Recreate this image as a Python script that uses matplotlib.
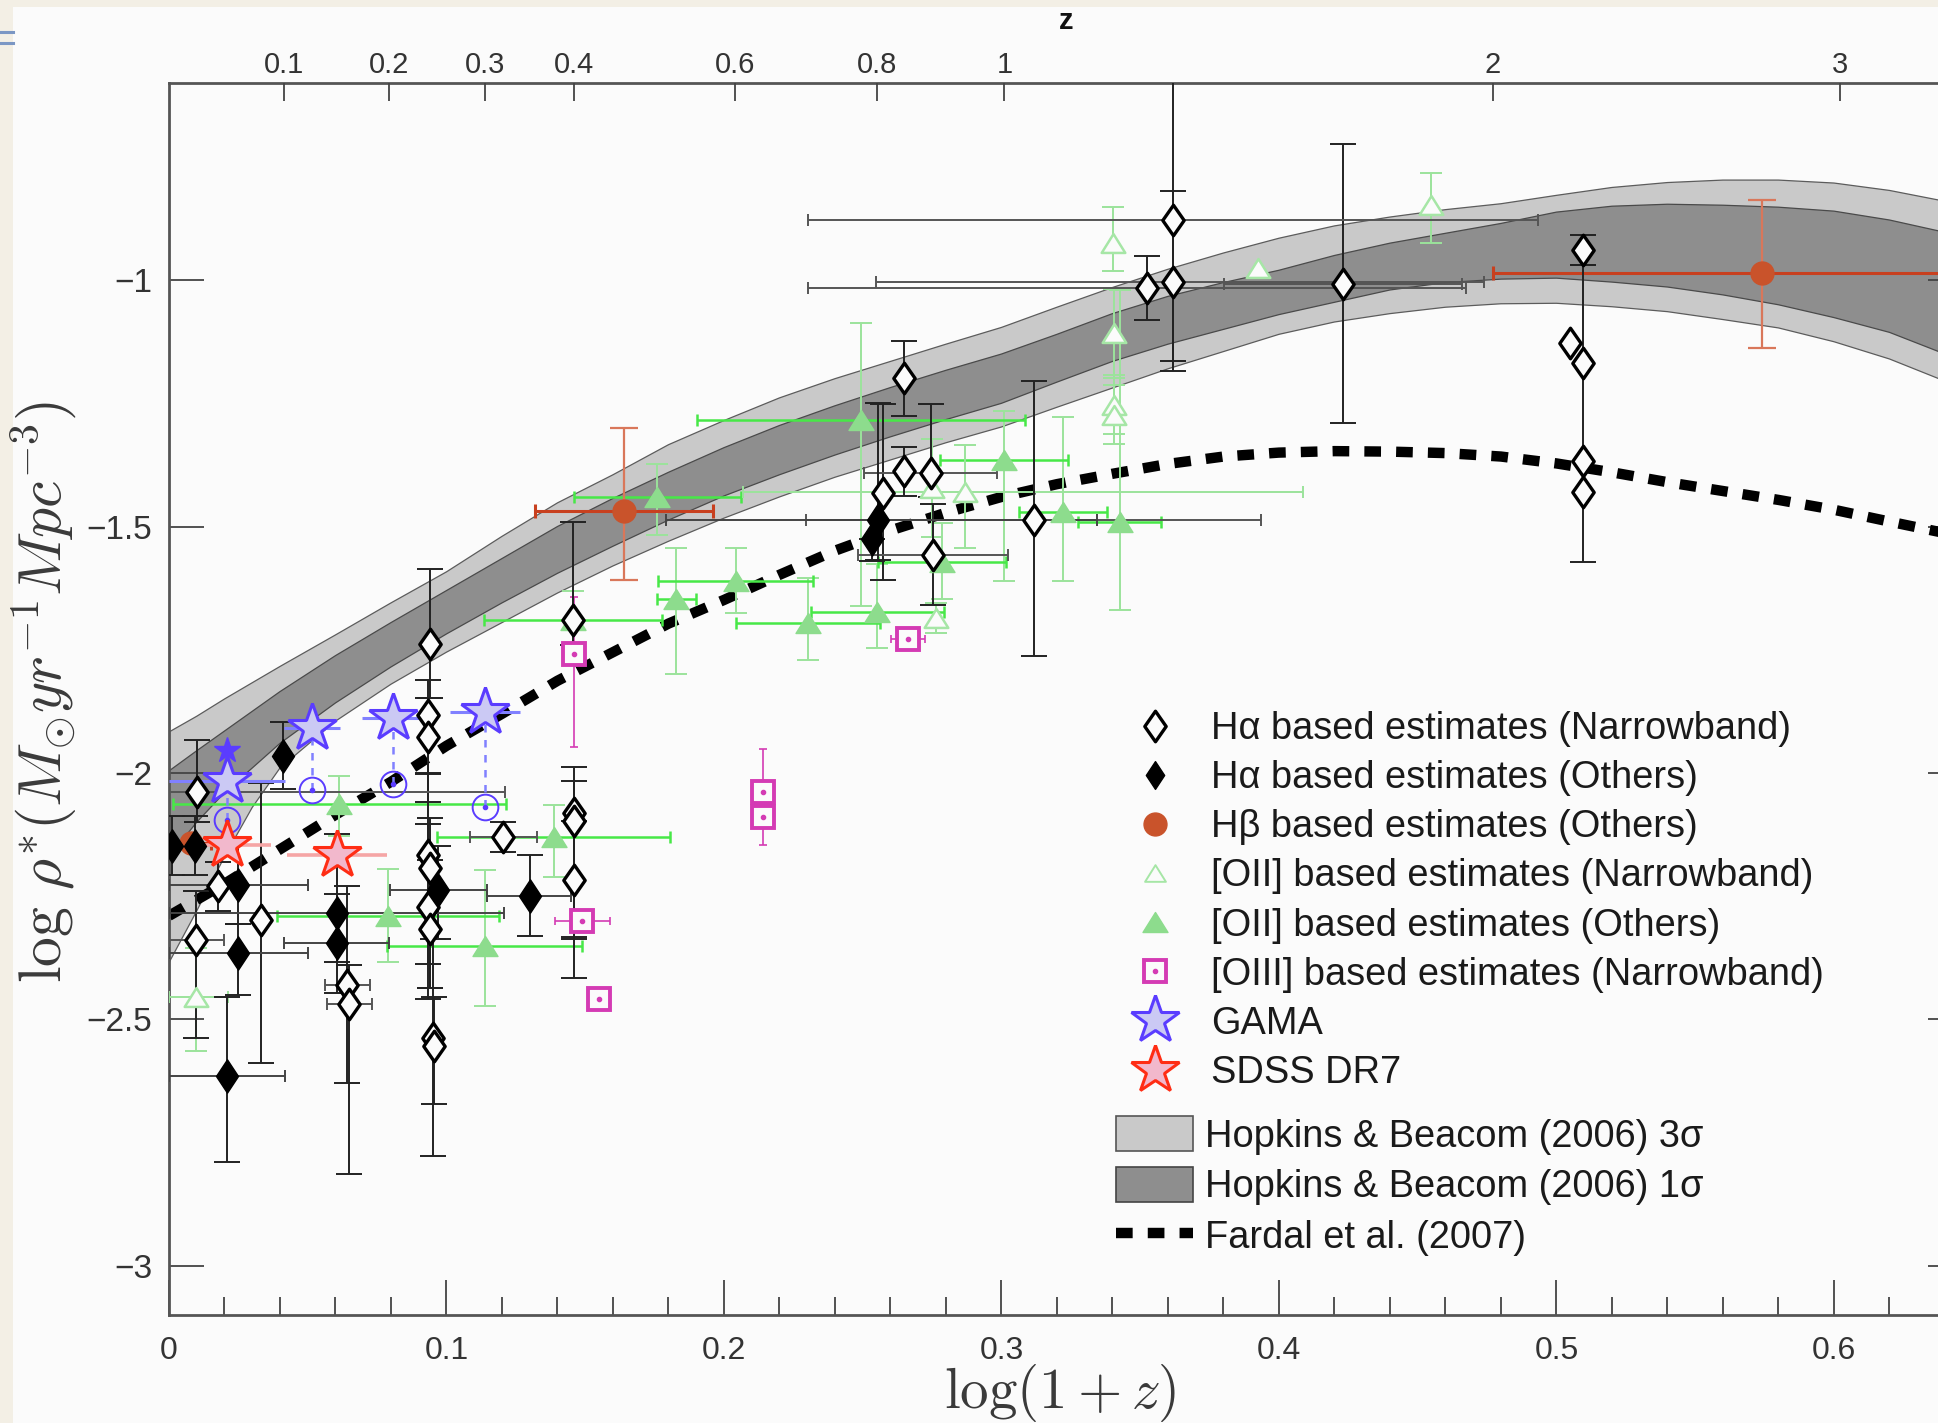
import numpy as np
import matplotlib
matplotlib.use("Agg")
import matplotlib.pyplot as plt
from matplotlib.path import Path
from matplotlib.lines import Line2D
from matplotlib.patches import Patch, Rectangle

plt.rcParams["font.family"] = ["Liberation Sans", "DejaVu Sans"]
plt.rcParams["mathtext.fontset"] = "cm"

# ---------------------------------------------------------------- data
# Hopkins & Beacom (2006) envelopes on a log(1+z) grid
hb_x = [0.00, 0.01, 0.02, 0.03, 0.04, 0.06, 0.08, 0.10, 0.12, 0.14, 0.16, 0.18,
        0.20, 0.22, 0.24, 0.26, 0.28, 0.30, 0.32, 0.34, 0.36, 0.38, 0.40, 0.42,
        0.44, 0.46, 0.48, 0.50, 0.52, 0.54, 0.56, 0.58, 0.60, 0.62, 0.64, 0.65]
hb3_hi = [-1.917, -1.885, -1.850, -1.817, -1.784, -1.720, -1.655, -1.592, -1.520,
          -1.452, -1.395, -1.334, -1.285, -1.239, -1.200, -1.165, -1.130, -1.096,
          -1.055, -1.015, -0.978, -0.945, -0.915, -0.890, -0.872, -0.857, -0.845,
          -0.828, -0.812, -0.802, -0.797, -0.797, -0.803, -0.818, -0.840, -0.853]
hb1_hi = [-1.996, -1.955, -1.915, -1.875, -1.835, -1.762, -1.695, -1.630, -1.565,
          -1.500, -1.443, -1.390, -1.340, -1.295, -1.255, -1.218, -1.183, -1.150,
          -1.110, -1.068, -1.033, -1.005, -0.980, -0.950, -0.925, -0.905, -0.885,
          -0.862, -0.850, -0.846, -0.848, -0.852, -0.860, -0.878, -0.903, -0.918]
hb1_lo = [-2.170, -2.100, -2.040, -1.990, -1.940, -1.858, -1.785, -1.718, -1.655,
          -1.595, -1.540, -1.487, -1.438, -1.395, -1.355, -1.318, -1.283, -1.250,
          -1.207, -1.165, -1.130, -1.100, -1.070, -1.045, -1.020, -1.005, -0.998,
          -0.996, -1.004, -1.014, -1.030, -1.050, -1.076, -1.106, -1.150, -1.175]
hb3_lo = [-2.385, -2.280, -2.170, -2.070, -1.990, -1.895, -1.820, -1.755, -1.695,
          -1.635, -1.580, -1.530, -1.483, -1.440, -1.400, -1.365, -1.330, -1.298,
          -1.258, -1.219, -1.180, -1.145, -1.110, -1.085, -1.068, -1.055, -1.048,
          -1.047, -1.054, -1.064, -1.080, -1.097, -1.125, -1.160, -1.205, -1.230]

# Fardal et al. (2007)
fardal_x = [0.00, 0.02, 0.04, 0.06, 0.08, 0.10, 0.12, 0.14, 0.16, 0.18, 0.20, 0.22,
            0.24, 0.26, 0.28, 0.30, 0.32, 0.34, 0.36, 0.38, 0.40, 0.42, 0.44, 0.46,
            0.48, 0.50, 0.52, 0.54, 0.56, 0.58, 0.60, 0.62, 0.65]
fardal_y = [-2.290, -2.225, -2.155, -2.085, -2.018, -1.945, -1.880, -1.813, -1.755,
            -1.697, -1.649, -1.598, -1.549, -1.508, -1.472, -1.440, -1.414, -1.393,
            -1.373, -1.358, -1.350, -1.347, -1.348, -1.351, -1.358, -1.372, -1.390,
            -1.410, -1.428, -1.446, -1.466, -1.490, -1.525]

# H-alpha, narrowband
ha_nb_x = [0.0102, 0.0099, 0.0175, 0.0332, 0.0643, 0.0650,
           0.0939, 0.0935, 0.0935, 0.0935, 0.0940, 0.0935, 0.0940, 0.0950, 0.0955,
           0.1205, 0.1455, 0.1458, 0.1458, 0.1458,
           0.2648, 0.2573, 0.2649, 0.2745, 0.2752, 0.3117,
           0.3524, 0.3619, 0.3619, 0.4231,
           0.5094, 0.5050, 0.5094, 0.5094, 0.5094]
ha_nb_y = [-2.039, -2.340, -2.230, -2.298, -2.430, -2.469,
           -1.738, -1.882, -1.928, -2.167, -2.192, -2.273, -2.316, -2.537, -2.554,
           -2.130, -1.690, -2.082, -2.097, -2.217,
           -1.198, -1.432, -1.388, -1.391, -1.557, -1.486,
           -1.016, -1.003, -0.878, -1.007,
           -0.939, -1.128, -1.168, -1.368, -1.429]
ha_nb_ylo = [0.060, 0.197, 0.050, 0.290, 0.200, 0.345,
             0.110, 0.120, 0.130, 0.220, 0.244, 0.185, 0.120, 0.241, 0.117,
             0.030, 0.050, 0.250, 0.320, 0.120,
             0.078, 0.176, 0.050, 0.050, 0.102, 0.277,
             0.065, 0.181, 0.287, 0.283,
             0.030, 0.0, 0.0, 0.203, 0.0]
ha_nb_yhi = [0.106, 0.100, 0.050, 0.278, 0.200, 0.080,
             0.151, 0.070, 0.080, 0.167, 0.100, 0.170, 0.140, 0.200, 0.100,
             0.030, 0.200, 0.094, 0.080, 0.120,
             0.074, 0.180, 0.050, 0.140, 0.103, 0.282,
             0.064, 0.500, 0.058, 0.283,
             0.030, 0.0, 0.0, 0.399, 0.0]
ha_nb_xlo = [0.0102, 0.0099, 0.0, 0.0, 0.008, 0.008,
             0.0, 0.0, 0.0, 0.0, 0.0, 0.0, 0.0, 0.0, 0.0,
             0.012, 0.0, 0.0, 0.0, 0.0,
             0.0, 0.0, 0.0, 0.024, 0.027, 0.082,
             0.122, 0.107, 0.1315, 0.043,
             0.0, 0.0, 0.0, 0.0, 0.0]
ha_nb_xhi = [0.111, 0.0099, 0.0, 0.0, 0.008, 0.008,
             0.0, 0.0, 0.0, 0.0, 0.0, 0.0, 0.0, 0.0, 0.0,
             0.012, 0.0, 0.0, 0.0, 0.0,
             0.0, 0.0, 0.0, 0.024, 0.027, 0.082,
             0.115, 0.112, 0.1315, 0.043,
             0.0, 0.0, 0.0, 0.0, 0.0]

# H-alpha, other methods
ha_ot_x = [0.0010, 0.0094, 0.0208, 0.0250, 0.0250, 0.0410, 0.0604, 0.0604,
           0.0970, 0.1302, 0.2556, 0.2535]
ha_ot_y = [-2.148, -2.148, -2.615, -2.227, -2.366, -1.965, -2.284, -2.346,
           -2.238, -2.250, -1.486, -1.525]
ha_ot_ylo = [0.060, 0.060, 0.174, 0.080, 0.085, 0.068, 0.100, 0.100, 0.100, 0.080, 0.081, 0.045]
ha_ot_yhi = [0.060, 0.060, 0.160, 0.080, 0.060, 0.068, 0.160, 0.100, 0.090, 0.084, 0.237, 0.0]
ha_ot_xlo = [0.0010, 0.0, 0.0208, 0.025, 0.025, 0.0, 0.0604, 0.019, 0.0175, 0.0155, 0.0766, 0.0]
ha_ot_xhi = [0.0, 0.0, 0.021, 0.025, 0.025, 0.0, 0.0604, 0.019, 0.0175, 0.0145, 0.0789, 0.0]

# H-beta, other methods
hb_pt_x = [0.0080, 0.1640, 0.5742]
hb_pt_y = [-2.142, -1.469, -0.986]
hb_pt_ylo = [0.0, 0.139, 0.151]
hb_pt_yhi = [0.0, 0.169, 0.148]
hb_pt_xerr = [0.0070, 0.032, 0.0971]

# [OII], narrowband
oii_nb_x = [0.0099, 0.2750, 0.2867, 0.2764, 0.3403, 0.3407, 0.3405, 0.3405, 0.3923, 0.4549]
oii_nb_y = [-2.455, -1.422, -1.429, -1.686, -0.925, -1.108, -1.253, -1.273, -0.976, -0.847]
oii_nb_ylo = [0.110, 0.100, 0.115, 0.030, 0.057, 0.090, 0.060, 0.060, 0.0, 0.078]
oii_nb_yhi = [0.100, 0.100, 0.095, 0.030, 0.074, 0.090, 0.060, 0.060, 0.0, 0.064]
oii_nb_xlo = [0.0099, 0.0, 0.080, 0.0, 0.0, 0.0, 0.0, 0.0, 0.0, 0.0]
oii_nb_xhi = [0.0115, 0.0, 0.122, 0.0, 0.0, 0.0, 0.0, 0.0, 0.0, 0.0]

# [OII], other methods
oii_ot_x = [0.0614, 0.0790, 0.1137, 0.1386, 0.1456, 0.1760, 0.1828, 0.2042,
            0.2304, 0.2494, 0.2552, 0.2785, 0.3010, 0.3222, 0.3426]
oii_ot_y = [-2.063, -2.290, -2.351, -2.130, -1.690, -1.441, -1.648, -1.611,
            -1.696, -1.284, -1.673, -1.573, -1.366, -1.470, -1.490]
oii_ot_ylo = [0.064, 0.094, 0.122, 0.082, 0.060, 0.076, 0.152, 0.064,
              0.074, 0.378, 0.073, 0.075, 0.245, 0.140, 0.179]
oii_ot_yhi = [0.056, 0.095, 0.153, 0.064, 0.060, 0.067, 0.104, 0.067,
              0.092, 0.197, 0.096, 0.080, 0.100, 0.193, 0.470]
oii_ot_xerr = [0.060, 0.040, 0.035, 0.042, 0.032, 0.030, 0.007, 0.028,
               0.026, 0.059, 0.024, 0.023, 0.023, 0.016, 0.015]

# [OIII], narrowband
oiii_x = [0.1460, 0.1490, 0.1550, 0.2141, 0.2141, 0.2663]
oiii_y = [-1.758, -2.300, -2.458, -2.039, -2.089, -1.729]
oiii_ylo = [0.190, 0.0, 0.0, 0.0, 0.058, 0.0]
oiii_yhi = [0.115, 0.0, 0.0, 0.088, 0.0, 0.0]
oiii_xerr = [0.0, 0.010, 0.0, 0.0, 0.0, 0.006]

# GAMA: stars, with the open-circle values below them
gama_x = [0.0209, 0.0515, 0.0809, 0.1139]
gama_y = [-2.016, -1.909, -1.888, -1.877]
gama_xerr = [0.021, 0.010, 0.0115, 0.0126]
gama_alt_y = [-2.095, -2.035, -2.023, -2.069]
gama_top_x = [0.0209]
gama_top_y = [-1.954]

# SDSS DR7
sdss_x = [0.0209, 0.0605]
sdss_y = [-2.146, -2.166]
sdss_xerr = [0.016, 0.018]

# axis ticks
x_tick_vals = [0.0, 0.1, 0.2, 0.3, 0.4, 0.5, 0.6]
x_tick_labels = ["0", "0.1", "0.2", "0.3", "0.4", "0.5", "0.6"]
y_tick_vals = [-3.0, -2.5, -2.0, -1.5, -1.0]
y_tick_labels = ["\u22123", "\u22122.5", "\u22122", "\u22121.5", "\u22121"]
z_tick_vals = [0.1, 0.2, 0.3, 0.4, 0.6, 0.8, 1, 2, 3]
z_tick_labels = ["0.1", "0.2", "0.3", "0.4", "0.6", "0.8", "1", "2", "3"]

# ---------------------------------------------------------------- styles
PANEL = "#fbfbfb"
LIGHT = "#c9c9c9"
DARK = "#8e8e8e"
GREEN_BRIGHT = "#47e847"
GREEN_PALE = "#9be39b"
GREEN_FILL = "#8ddc8d"
MAGENTA = "#d43bb4"
BLUE = "#5a3cff"
BLUE_FILL = "#cbc9f4"
BLUE_ERR = "#8080ff"
RED = "#ff2d14"
RED_FILL = "#f2b8cc"
RED_ERR = "#f5a5a5"
ORANGE = "#c9532b"

diamond = Path([(0, 1), (0.70, 0), (0, -1), (-0.70, 0), (0, 1)],
               [Path.MOVETO, Path.LINETO, Path.LINETO, Path.LINETO, Path.CLOSEPOLY])
diamond_solid = Path([(0, 1), (0.66, 0), (0, -1), (-0.66, 0), (0, 1)],
                     [Path.MOVETO, Path.LINETO, Path.LINETO, Path.LINETO, Path.CLOSEPOLY])
tri = Path([(0, 0.8), (1, -0.8), (-1, -0.8), (0, 0.8)],
           [Path.MOVETO, Path.LINETO, Path.LINETO, Path.CLOSEPOLY])

W, H = 1938, 1423
fig = plt.figure(figsize=(W / 100, H / 100), dpi=100, facecolor="#f3efe5")
fig.patches.append(Rectangle((13 / W, 0), 1 - 13 / W, 1 - 7 / H, transform=fig.transFigure,
                             facecolor=PANEL, edgecolor="none", zorder=-10))
for yy in (32, 43):
    fig.add_artist(Line2D([0, 13 / W], [1 - yy / H] * 2, transform=fig.transFigure,
                          color="#7b97c4", lw=2.2))

ax_left, ax_right, ax_top_px, ax_bot_px = 169, 1963, 83, 1315
ax = fig.add_axes([ax_left / W, 1 - ax_bot_px / H, (ax_right - ax_left) / W,
                   (ax_bot_px - ax_top_px) / H])
ax.set_facecolor(PANEL)
ax.set_xlim(0, 0.6465)
ax.set_ylim(-3.1, -0.6)

# Hopkins & Beacom envelopes
ax.fill_between(hb_x, hb3_lo, hb3_hi, facecolor=LIGHT, edgecolor="none", zorder=1)
ax.fill_between(hb_x, hb1_lo, hb1_hi, facecolor=DARK, edgecolor="none", zorder=1.1)
for edge, col in ((hb3_hi, "#5c5c5c"), (hb3_lo, "#5c5c5c"), (hb1_hi, "#4a4a4a"), (hb1_lo, "#4a4a4a")):
    ax.plot(hb_x, edge, color=col, lw=0.9, zorder=1.2)

# Fardal et al. model
ax.plot(fardal_x, fardal_y, color="black", lw=7.5, dashes=(1.6, 1.45),
        dash_capstyle="butt", zorder=2)


def draw_err(x, y, ylo, yhi, xlo, xhi, ycol, xcol, ycap, xcap, lw, z, xlw=None):
    x = np.asarray(x, float)
    y = np.asarray(y, float)
    ylo = np.asarray(ylo, float)
    yhi = np.asarray(yhi, float)
    xlo = np.asarray(xlo, float)
    xhi = np.asarray(xhi, float)
    m = (ylo + yhi) > 0
    if m.any():
        ax.errorbar(x[m], y[m], yerr=[ylo[m], yhi[m]], fmt="none", ecolor=ycol,
                    elinewidth=lw, capsize=ycap, capthick=lw, zorder=z)
    m = (xlo + xhi) > 0
    if m.any():
        xl = lw if xlw is None else xlw
        ax.errorbar(x[m], y[m], xerr=[xlo[m], xhi[m]], fmt="none", ecolor=xcol,
                    elinewidth=xl, capsize=xcap, capthick=xl, zorder=z)


# error bars
draw_err(oii_ot_x, oii_ot_y, oii_ot_ylo, oii_ot_yhi, oii_ot_xerr, oii_ot_xerr,
         GREEN_PALE, GREEN_BRIGHT, 8, 4.5, 1.4, 3, xlw=1.8)
draw_err(oii_nb_x, oii_nb_y, oii_nb_ylo, oii_nb_yhi, oii_nb_xlo, oii_nb_xhi,
         GREEN_PALE, GREEN_PALE, 8, 4.5, 1.4, 3)
draw_err(oiii_x, oiii_y, oiii_ylo, oiii_yhi, oiii_xerr, oiii_xerr,
         MAGENTA, MAGENTA, 3, 3, 1.2, 3)
draw_err(hb_pt_x, hb_pt_y, hb_pt_ylo, hb_pt_yhi, hb_pt_xerr, hb_pt_xerr,
         "#d9775a", "#c8401f", 10, 5, 1.6, 3.2, xlw=2.2)
draw_err(ha_nb_x, ha_nb_y, ha_nb_ylo, ha_nb_yhi, ha_nb_xlo, ha_nb_xhi,
         "#222222", "#555555", 9.5, 4.5, 1.4, 3.3)
draw_err(ha_ot_x, ha_ot_y, ha_ot_ylo, ha_ot_yhi, ha_ot_xlo, ha_ot_xhi,
         "#222222", "#444444", 9.5, 4.5, 1.4, 3.3)
draw_err(gama_x, gama_y, [0] * 4, [0] * 4, gama_xerr, gama_xerr,
         BLUE_ERR, BLUE_ERR, 0, 0, 2.2, 3.4)
draw_err(sdss_x, sdss_y, [0] * 2, [0] * 2, sdss_xerr, sdss_xerr,
         RED_ERR, RED_ERR, 0, 0, 2.6, 3.4)
ax.vlines(gama_x, gama_alt_y, gama_y, colors=BLUE_ERR, linestyles=(0, (3, 3)),
          lw=1.8, zorder=3.4)

# markers
st_oii_ot = dict(ls="none", marker=tri, ms=18, mfc=GREEN_FILL, mec=GREEN_FILL, mew=1)
st_oii_nb = dict(ls="none", marker=tri, ms=17, mfc=PANEL, mec="#a6e6a6", mew=1.8)
st_oiii = dict(ls="none", marker="s", ms=15.5, mfc=PANEL, mec=MAGENTA, mew=2.8)
st_oiii_dot = dict(ls="none", marker="o", ms=3, mfc=MAGENTA, mec=MAGENTA)
st_hb = dict(ls="none", marker="o", ms=16.5, mfc=ORANGE, mec=ORANGE)
st_ha_nb = dict(ls="none", marker=diamond, ms=22, mfc=PANEL, mec="black", mew=2.4)
st_ha_ot = dict(ls="none", marker=diamond_solid, ms=24, mfc="black", mec="black", mew=1)
st_gama = dict(ls="none", marker="*", ms=36, mfc=BLUE_FILL, mec=BLUE, mew=2.2)
st_gama_top = dict(ls="none", marker="*", ms=19, mfc=BLUE, mec=BLUE, mew=1)
st_gama_alt = dict(ls="none", marker="o", ms=18.5, mfc="none", mec=BLUE, mew=1.4)
st_gama_alt_dot = dict(ls="none", marker="o", ms=3, mfc=BLUE, mec=BLUE)
st_sdss = dict(ls="none", marker="*", ms=36, mfc=RED_FILL, mec=RED, mew=2.2)

ax.plot(oii_ot_x, oii_ot_y, zorder=4, **st_oii_ot)
ax.plot(oii_nb_x, oii_nb_y, zorder=4, **st_oii_nb)
ax.plot(oiii_x, oiii_y, zorder=4, **st_oiii)
ax.plot(oiii_x, oiii_y, zorder=4.01, **st_oiii_dot)
ax.plot(hb_pt_x, hb_pt_y, zorder=4, **st_hb)
ax.plot(ha_nb_x, ha_nb_y, zorder=4.2, **st_ha_nb)
ax.plot(ha_ot_x, ha_ot_y, zorder=4.2, **st_ha_ot)
ax.plot(gama_x, gama_alt_y, zorder=4.3, **st_gama_alt)
ax.plot(gama_x, gama_alt_y, zorder=4.31, **st_gama_alt_dot)
ax.plot(gama_x, gama_y, zorder=4.4, **st_gama)
ax.plot(gama_top_x, gama_top_y, zorder=4.4, **st_gama_top)
ax.plot(sdss_x, sdss_y, zorder=4.4, **st_sdss)

# axes styling
for sp in ax.spines.values():
    sp.set_color("#555555")
    sp.set_linewidth(2.0)
ax.set_xticks(x_tick_vals)
ax.set_xticklabels(x_tick_labels)
ax.set_xticks(np.arange(0.02, 0.65, 0.02), minor=True)
ax.set_yticks(y_tick_vals)
ax.set_yticklabels(y_tick_labels)
ax.tick_params(axis="x", which="major", direction="in", length=25, width=1.3,
               color="#444444", labelsize=23, labelcolor="#333333", pad=15)
ax.tick_params(axis="x", which="minor", direction="in", length=13, width=1.3, color="#444444")
ax.tick_params(axis="y", which="major", direction="in", length=25, width=1.3,
               color="#444444", left=True, right=True, labelsize=24,
               labelcolor="#333333", pad=12)

ax_z = ax.twiny()
ax_z.set_xlim(ax.get_xlim())
ax_z.set_xticks(np.log10(1 + np.asarray(z_tick_vals)))
ax_z.set_xticklabels(z_tick_labels)
ax_z.tick_params(axis="x", direction="in", length=13, width=1.3, color="#444444",
                 labelsize=21, labelcolor="#333333", pad=3)
for sp in ax_z.spines.values():
    sp.set_visible(False)
ax_z.set_xlabel("z", fontsize=21, fontweight="bold", labelpad=16, color="#111111")

ax.set_xlabel(r"$\log(1+z)$", fontsize=41, color="#3a3a3a")
ax.xaxis.set_label_coords((1060 - ax_left) / (ax_right - ax_left),
                          (ax_bot_px - 1362) / (ax_bot_px - ax_top_px))
ax.set_ylabel(r"$\log\,\rho^{*}(M_{\odot}yr^{-1}Mpc^{-3})$", fontsize=43, color="#3a3a3a")
ax.yaxis.set_label_coords((79 - ax_left) / (ax_right - ax_left),
                          (ax_bot_px - 692) / (ax_bot_px - ax_top_px))

# legends
h1 = [
    Line2D([], [], **st_ha_nb),
    Line2D([], [], **{**st_ha_ot, "ms": 20}),
    Line2D([], [], **st_hb),
    Line2D([], [], **{**st_oii_nb, "ms": 15, "mew": 1.4}),
    Line2D([], [], **st_oii_ot),
    (Line2D([], [], **st_oiii), Line2D([], [], **st_oiii_dot)),
    Line2D([], [], **st_gama),
    Line2D([], [], **st_sdss),
]
l1 = ["H\u03b1 based estimates (Narrowband)", "H\u03b1 based estimates (Others)",
      "H\u03b2 based estimates (Others)", "[OII] based estimates (Narrowband)",
      "[OII] based estimates (Others)", "[OIII] based estimates (Narrowband)",
      "GAMA", "SDSS DR7"]
fs_leg = 27.4
leg1 = fig.legend(h1, l1, loc="upper left", bbox_to_anchor=(1116 / W, 1 - 711 / H),
                  bbox_transform=fig.transFigure, frameon=False, fontsize=fs_leg,
                  handlelength=2.03, handletextpad=0.47, labelspacing=0.345,
                  borderpad=0, borderaxespad=0, numpoints=1, labelcolor="#1a1a1a")

h2 = [Patch(facecolor=LIGHT, edgecolor="#555555", lw=1.2),
      Patch(facecolor=DARK, edgecolor="#444444", lw=1.2),
      Line2D([], [], color="black", lw=7.5, dashes=(1.6, 1.45), dash_capstyle="butt")]
l2 = ["Hopkins & Beacom (2006) 3\u03c3", "Hopkins & Beacom (2006) 1\u03c3",
      "Fardal et al. (2007)"]
leg2 = fig.legend(h2, l2, loc="upper left", bbox_to_anchor=(1116 / W, 1 - 1116 / H),
                  bbox_transform=fig.transFigure, frameon=False, fontsize=fs_leg,
                  handlelength=2.03, handleheight=1.05, handletextpad=0.31,
                  labelspacing=0.32, borderpad=0, borderaxespad=0, labelcolor="#1a1a1a")

fig.savefig("out.png", dpi=100, facecolor=fig.get_facecolor())
